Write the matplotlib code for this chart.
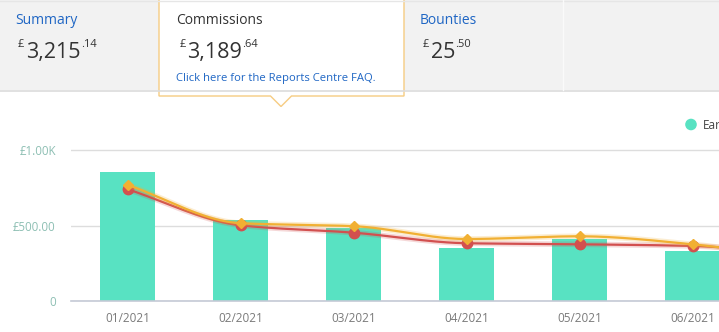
import numpy as np
import matplotlib
matplotlib.use("Agg")
import matplotlib.pyplot as plt
from matplotlib.patches import Polygon, Rectangle, Circle

# ---- data ----
months = ["01/2021", "02/2021", "03/2021", "04/2021", "05/2021", "06/2021", "07/2021"]
earnings = [856, 537, 484, 354, 411, 332, 300]
trend_red = [741, 502, 453, 383, 376, 365, 300]
trend_gold = [770, 516, 496, 411, 429, 376, 270]
y_ticks = [0, 500, 1000]
y_tick_labels = ["0", "£500.00", "£1.00K"]

W, H = 719, 332
DPI = 100

BAR = "#58E2C2"
RED = "#D2504F"
GOLD = "#F1B033"
LINK = "#1F66C4"
DARK = "#333333"

plt.rcParams["font.family"] = ["Open Sans", "DejaVu Sans"]

fig = plt.figure(figsize=(W / DPI, H / DPI), dpi=DPI)


def px_box(left, top, right, bottom):
    return [left / W, 1 - bottom / H, (right - left) / W, (bottom - top) / H]


# ---- chart axes ----
ax = fig.add_axes(px_box(71, 120, 719, 301))
x = np.arange(len(months))
ax.bar(x, earnings, width=0.48, color=BAR, zorder=2)


def monotone_curve(xs, ys, n=40):
    """Fritsch-Carlson monotone cubic for drawing a smooth line."""
    xs = np.asarray(xs, float)
    ys = np.asarray(ys, float)
    h = np.diff(xs)
    d = np.diff(ys) / h
    m = np.zeros_like(ys)
    m[0], m[-1] = d[0], d[-1]
    for i in range(1, len(ys) - 1):
        if d[i - 1] * d[i] <= 0:
            m[i] = 0
        else:
            w1 = 2 * h[i] + h[i - 1]
            w2 = h[i] + 2 * h[i - 1]
            m[i] = (w1 + w2) / (w1 / d[i - 1] + w2 / d[i])
    px, py = [], []
    for i in range(len(xs) - 1):
        t = np.linspace(0, 1, n, endpoint=False)
        h00 = 2 * t**3 - 3 * t**2 + 1
        h10 = t**3 - 2 * t**2 + t
        h01 = -2 * t**3 + 3 * t**2
        h11 = t**3 - t**2
        px.append(xs[i] + t * h[i])
        py.append(h00 * ys[i] + h10 * h[i] * m[i] + h01 * ys[i + 1] + h11 * h[i] * m[i + 1])
    px.append([xs[-1]])
    py.append([ys[-1]])
    return np.concatenate(px), np.concatenate(py)


for vals, color, marker, msize, z in [
    (trend_red, RED, "o", 7.5, 3),
    (trend_gold, GOLD, "D", 5.5, 4),
]:
    cx, cy = monotone_curve(x, vals)
    ax.plot(cx, cy, color=color, lw=4, alpha=0.22, zorder=z, solid_capstyle="round")
    ax.plot(cx, cy, color=color, lw=1.6, zorder=z + 0.1)
    ax.plot(x, vals, linestyle="none", marker=marker, markersize=msize,
            color=color, markeredgecolor=color, zorder=z + 0.2)

ax.set_yticks(y_ticks)
ax.set_yticklabels(y_tick_labels)
ax.set_xticks(x)
ax.set_xticklabels(months)
# the chart continues past the right edge; only the first six months fit
ax.set_xlim(-0.5, -0.5 + 648 / 113)
ax.set_ylim(0, 1200)
ax.tick_params(axis="y", length=0, pad=11, labelsize=8.3, labelcolor="#8DBFB3")
ax.tick_params(axis="x", length=0, pad=8, labelsize=8.5, labelcolor="#7A7A7A")
ax.grid(axis="y", color="#DDDDDD", lw=1, zorder=0)
ax.set_axisbelow(True)
for s in ["top", "right", "left"]:
    ax.spines[s].set_visible(False)
ax.spines["bottom"].set_color("#C5CAD6")
ax.spines["bottom"].set_linewidth(1.2)
ax.spines["bottom"].set_zorder(2.5)

# ---- header overlay in pixel coordinates ----
ov = fig.add_axes([0, 0, 1, 1], zorder=10)
ov.set_xlim(0, W)
ov.set_ylim(H, 0)
ov.axis("off")
ov.patch.set_alpha(0)

ov.add_patch(Rectangle((0, 0), W, 90, facecolor="#F2F2F2", edgecolor="none"))
ov.plot([0, W], [90.5, 90.5], color="#DCDCDC", lw=1.2)
ov.plot([0, W], [0.5, 0.5], color="#E6E6E6", lw=1)
ov.plot([563, 563], [0, 90], color="#FAFAFA", lw=1)

tab = Polygon([(159, -2), (159, 96), (270.5, 96), (281, 106.5), (291.5, 96),
               (404, 96), (404, -2)], closed=False, facecolor="white",
              edgecolor="#F6CC82", lw=1.0)
ov.add_patch(tab)


def amount(x0, symbol_dx, whole, cents):
    ov.text(x0, 39, "£", fontsize=8, color=DARK, va="top", ha="left")
    t = ov.text(x0 + symbol_dx, 58, whole, fontsize=15.5, color=DARK,
                va="baseline", ha="left")
    fig.canvas.draw()
    bb = t.get_window_extent()
    right = bb.x1
    ov.text(right, 39, "." + cents, fontsize=8, color=DARK, va="top", ha="left")


ov.text(15, 20.5, "Summary", fontsize=10, color=LINK, va="center", ha="left")
ov.text(176, 20.5, "Commissions", fontsize=10, color=DARK, va="center", ha="left")
ov.text(420, 20.5, "Bounties", fontsize=10, color=LINK, va="center", ha="left")

amount(18, 8.5, "3,215", "14")
amount(180, 7.5, "3,189", "64")
amount(423, 7.5, "25", "50")

ov.text(176, 78, "Click here for the Reports Centre FAQ.", fontsize=8.1,
        color=LINK, va="center", ha="left")

# legend entry
ov.add_patch(Circle((691, 124.5), 5.8, facecolor=BAR, edgecolor="none"))
ov.text(703, 125, "Earnings", fontsize=8.5, color="#444444", va="center", ha="left")

fig.savefig("out.png", dpi=DPI)
